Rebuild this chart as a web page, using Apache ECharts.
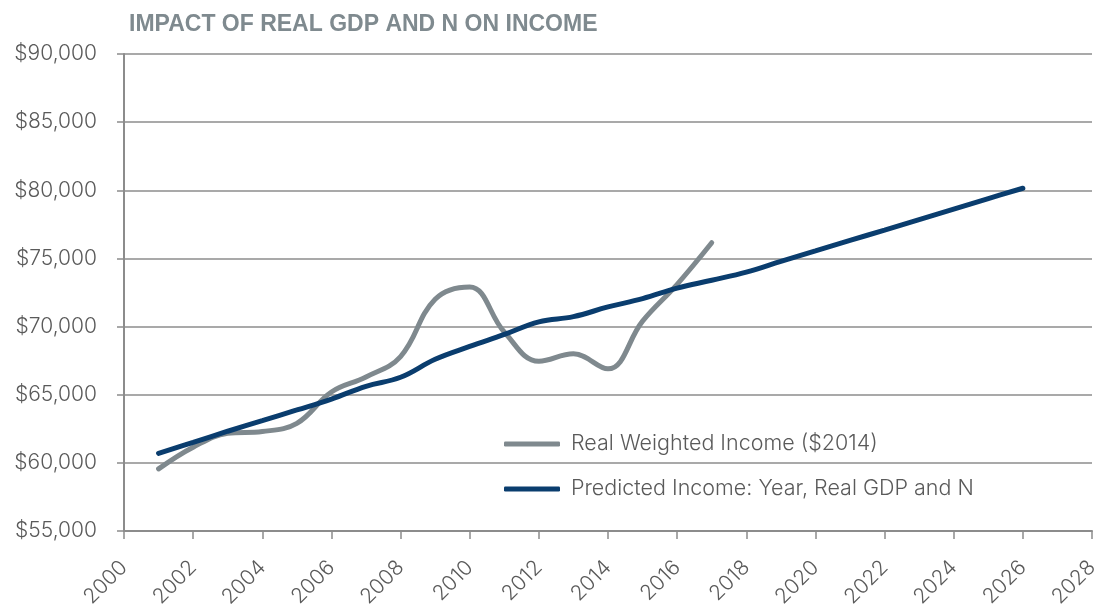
<!DOCTYPE html>
<html>
<head>
<meta charset="utf-8">
<script src="https://cdn.jsdelivr.net/npm/echarts@6/dist/echarts.min.js"></script>
<style>
  html, body { margin: 0; padding: 0; background: #fff; }
  #chart { width: 1100px; height: 606px; }
</style>
</head>
<body>
<div id="chart"></div>
<script>
// Years for each series
const actualYears = [2001, 2002, 2003, 2004, 2005, 2006, 2007, 2008, 2009, 2010, 2011, 2012, 2013, 2014, 2015, 2016, 2017];
const predictedYears = [2001, 2002, 2003, 2004, 2005, 2006, 2007, 2008, 2009, 2010, 2011, 2012, 2013,
  2014, 2015, 2016, 2017, 2018, 2019, 2020, 2021, 2022, 2023, 2024, 2025, 2026];

// Real weighted income, 2014 dollars
const actualIncome = [59560, 61150, 62170, 62300, 62900, 65200, 66300, 67800, 72000, 72900,
  69600, 67450, 68000, 66900, 70400, 73100, 76150];

// Predicted income from year, real GDP and N
const predictedIncome = [60700, 61500, 62320, 63100, 63880, 64680, 65620, 66280, 67600, 68540,
  69420, 70350, 70730, 71440, 72050, 72820, 73400, 74000, 74780, 75550, 76320, 77080, 77850,
  78620, 79390, 80150];

const seriesNames = ['Real Weighted Income ($2014)', 'Predicted Income: Year, Real GDP and N'];
const titleText = 'IMPACT OF REAL GDP AND N ON INCOME';

const pairs = (xs, ys) => xs.map((x, i) => [x, ys[i]]);

const axisGray = '#8c8c8c';
const labelGray = '#5a5a5a';
const font = 'Inter, Lato, sans-serif';

const chart = echarts.init(document.getElementById('chart'));
chart.setOption({
  animation: false,
  title: {
    text: titleText,
    left: 124,
    top: 8,
    textStyle: {
      fontFamily: '"Liberation Sans", Arial, sans-serif',
      fontWeight: 'bold',
      fontSize: 23,
      color: '#7f8a8f'
    }
  },
  grid: { left: 124, right: 8, top: 54, bottom: 75, containLabel: false, outerBoundsMode: 'none' },
  legend: {
    orient: 'vertical',
    left: 499,
    top: 428,
    itemGap: 23,
    itemWidth: 56,
    itemHeight: 5,
    icon: 'roundRect',
    textStyle: { fontFamily: font, fontWeight: 300, fontSize: 21.5, color: labelGray, padding: [0, 0, 0, 6] },
    data: seriesNames
  },
  xAxis: {
    type: 'value',
    min: 2000,
    max: 2028,
    interval: 2,
    axisLine: { show: true, lineStyle: { color: axisGray, width: 2 } },
    axisTick: { show: true, length: 8, lineStyle: { color: axisGray, width: 1.5 } },
    splitLine: { show: false },
    axisLabel: {
      rotate: 45,
      margin: 33,
      fontFamily: font,
      fontWeight: 300,
      fontSize: 21,
      color: labelGray,
      formatter: v => String(v)
    }
  },
  yAxis: {
    type: 'value',
    min: 55000,
    max: 90000,
    interval: 5000,
    axisLine: { show: true, lineStyle: { color: axisGray, width: 2 } },
    axisTick: { show: true, length: 7, lineStyle: { color: axisGray, width: 1.5 } },
    splitLine: { show: true, lineStyle: { color: axisGray, width: 1.5 } },
    axisLabel: {
      margin: 27,
      fontFamily: font,
      fontWeight: 300,
      fontSize: 21,
      color: labelGray,
      formatter: v => '$' + v.toLocaleString('en-US')
    }
  },
  series: [
    {
      name: seriesNames[0],
      type: 'line',
      data: pairs(actualYears, actualIncome),
      smooth: 0.4,
      showSymbol: false,
      lineStyle: { color: '#7f898e', width: 5, cap: 'round' },
      itemStyle: { color: '#7f898e' }
    },
    {
      name: seriesNames[1],
      type: 'line',
      data: pairs(predictedYears, predictedIncome),
      smooth: 0.4,
      showSymbol: false,
      lineStyle: { color: '#0a3d6e', width: 5, cap: 'round' },
      itemStyle: { color: '#0a3d6e' }
    }
  ]
});
</script>
</body>
</html>
